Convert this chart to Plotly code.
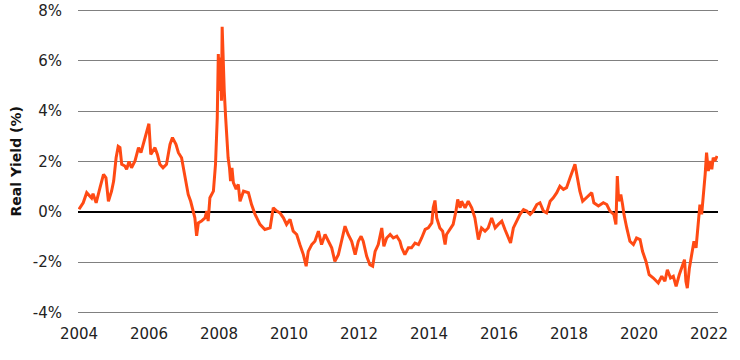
import plotly.graph_objects as go

# Decimal years and real yield (%)
years = [
    2004.00, 2004.12, 2004.22, 2004.26, 2004.36, 2004.40, 2004.49, 2004.60, 2004.70, 2004.77,
    2004.84, 2004.93, 2004.99, 2005.06, 2005.12, 2005.17, 2005.22, 2005.31, 2005.36, 2005.43,
    2005.50, 2005.60, 2005.65, 2005.70, 2005.77, 2005.84, 2005.91, 2005.997, 2006.05, 2006.11,
    2006.17, 2006.24, 2006.31, 2006.40, 2006.50, 2006.60, 2006.67, 2006.77, 2006.84, 2006.93,
    2006.98, 2007.06, 2007.12, 2007.19, 2007.26, 2007.31, 2007.36, 2007.41, 2007.50, 2007.60,
    2007.65, 2007.69, 2007.74, 2007.84, 2007.90, 2007.95, 2007.98, 2008.01, 2008.05, 2008.07,
    2008.09, 2008.12, 2008.15, 2008.19, 2008.23, 2008.26, 2008.30, 2008.33, 2008.37, 2008.41,
    2008.49, 2008.55, 2008.60, 2008.70, 2008.84, 2008.93, 2009.03, 2009.17, 2009.31, 2009.46,
    2009.55, 2009.65, 2009.74, 2009.84, 2009.93, 2010.03, 2010.12, 2010.22, 2010.31, 2010.41,
    2010.49, 2010.55, 2010.65, 2010.74, 2010.84, 2010.93, 2011.03, 2011.12, 2011.22, 2011.31,
    2011.41, 2011.50, 2011.60, 2011.69, 2011.79, 2011.89, 2011.98, 2012.06, 2012.12, 2012.22,
    2012.31, 2012.39, 2012.46, 2012.55, 2012.65, 2012.71, 2012.79, 2012.89, 2012.98, 2013.08,
    2013.17, 2013.22, 2013.31, 2013.41, 2013.50, 2013.60, 2013.70, 2013.79, 2013.89, 2013.98,
    2014.08, 2014.12, 2014.17, 2014.22, 2014.31, 2014.39, 2014.46, 2014.50, 2014.60, 2014.69,
    2014.77, 2014.82, 2014.89, 2014.93, 2015.03, 2015.12, 2015.22, 2015.31, 2015.41, 2015.50,
    2015.60, 2015.69, 2015.79, 2015.89, 2015.98, 2016.08, 2016.17, 2016.27, 2016.33, 2016.41,
    2016.50, 2016.60, 2016.70, 2016.79, 2016.89, 2016.98, 2017.08, 2017.17, 2017.27, 2017.36,
    2017.46, 2017.55, 2017.65, 2017.74, 2017.84, 2017.93, 2018.03, 2018.10, 2018.17, 2018.24,
    2018.31, 2018.39, 2018.49, 2018.58, 2018.65, 2018.71, 2018.84, 2018.98, 2019.08, 2019.17,
    2019.28, 2019.34, 2019.38, 2019.42, 2019.48, 2019.53, 2019.57, 2019.65, 2019.74, 2019.84,
    2019.93, 2020.03, 2020.10, 2020.20, 2020.29, 2020.41, 2020.55, 2020.65, 2020.74, 2020.81,
    2020.90, 2020.98, 2021.06, 2021.15, 2021.25, 2021.30, 2021.34, 2021.38, 2021.44, 2021.51,
    2021.57, 2021.63, 2021.69, 2021.74, 2021.79, 2021.84, 2021.89, 2021.93, 2021.98, 2022.03,
    2022.08, 2022.12, 2022.17, 2022.23,
]
real_yield = [
    0.10, 0.36, 0.76, 0.70, 0.55, 0.72, 0.36, 0.96, 1.49, 1.35,
    0.42, 0.82, 1.22, 2.15, 2.60, 2.55, 1.89, 1.82, 1.69, 2.00,
    1.75, 2.02, 2.28, 2.55, 2.35, 2.68, 3.08, 3.50, 2.28, 2.42,
    2.55, 2.28, 1.89, 1.75, 1.89, 2.68, 2.95, 2.68, 2.35, 2.15,
    1.75, 1.09, 0.69, 0.42, 0.03, -0.24, -0.95, -0.44, -0.37, -0.24,
    0.03, -0.37, 0.56, 0.82, 1.89, 3.74, 6.27, 4.80, 6.13, 4.41,
    7.35, 5.74, 4.80, 3.74, 2.82, 2.15, 1.75, 1.22, 1.75, 1.16,
    0.90, 1.09, 0.42, 0.82, 0.76, 0.29, -0.10, -0.50, -0.70, -0.64,
    0.16, 0.03, -0.04, -0.24, -0.50, -0.30, -0.77, -0.90, -1.30, -1.70,
    -2.16, -1.57, -1.30, -1.17, -0.77, -1.30, -0.90, -1.17, -1.43, -1.97,
    -1.70, -1.17, -0.57, -0.90, -1.17, -1.70, -1.17, -0.97, -1.17, -1.77,
    -2.10, -2.16, -1.57, -1.30, -0.64, -1.37, -1.04, -0.90, -1.04, -0.97,
    -1.17, -1.43, -1.70, -1.43, -1.43, -1.24, -1.30, -1.04, -0.70, -0.64,
    -0.44, 0.16, 0.45, -0.24, -0.64, -0.77, -1.30, -0.90, -0.70, -0.50,
    0.03, 0.49, 0.16, 0.42, 0.16, 0.42, 0.16, -0.24, -1.10, -0.64,
    -0.77, -0.64, -0.24, -0.64, -0.50, -0.37, -0.70, -1.04, -1.24, -0.64,
    -0.37, -0.10, 0.09, 0.03, -0.10, 0.03, 0.29, 0.36, 0.03, -0.04,
    0.42, 0.56, 0.76, 1.02, 0.89, 0.96, 1.35, 1.62, 1.89, 1.35,
    0.82, 0.42, 0.56, 0.69, 0.76, 0.36, 0.23, 0.36, 0.29, 0.03,
    -0.10, -0.50, 1.42, 0.42, 0.69, 0.29, -0.10, -0.64, -1.17, -1.30,
    -1.04, -1.10, -1.57, -1.97, -2.50, -2.63, -2.83, -2.56, -2.76, -2.30,
    -2.63, -2.56, -2.96, -2.50, -2.10, -1.90, -2.76, -3.03, -2.23, -1.70,
    -1.17, -1.43, -0.50, 0.29, -0.10, 0.56, 1.49, 2.35, 1.62, 2.02,
    1.69, 2.15, 2.02, 2.22,
]
tick_years = [2004, 2006, 2008, 2010, 2012, 2014, 2016, 2018, 2020, 2022]
tick_labels = [str(y) for y in tick_years]
y_ticks = [-4, -2, 0, 2, 4, 6, 8]
y_tick_labels = [f"{v}%" for v in y_ticks]
y_title = "Real Yield (%)"

fig = go.Figure()
fig.add_trace(go.Scatter(
    x=years, y=real_yield, mode="lines",
    line=dict(color="#FF4A14", width=3),
    hoverinfo="skip", showlegend=False,
))

font_family = "DejaVu Sans, Verdana, sans-serif"
fig.update_layout(
    template="none",
    width=740, height=360,
    margin=dict(l=78, r=22, t=9, b=46, autoexpand=False),
    paper_bgcolor="white", plot_bgcolor="white",
    font=dict(family=font_family, size=15, color="#222222"),
    showlegend=False,
)
fig.update_xaxes(
    automargin=False,
    range=[2003.971, 2022.257],
    tickmode="array", tickvals=tick_years, ticktext=tick_labels,
    showgrid=False, zeroline=False, showline=False,
    ticks="outside", ticklen=6, tickcolor="rgba(0,0,0,0)",
    tickfont=dict(size=15, color="#222222"),
)
fig.update_yaxes(
    automargin=False,
    range=[-4.06, 8.06],
    tickmode="array", tickvals=y_ticks, ticktext=y_tick_labels,
    showgrid=True, gridcolor="#808080", gridwidth=1,
    zeroline=True, zerolinecolor="#000000", zerolinewidth=2,
    showline=False,
    ticks="outside", ticklen=12, tickcolor="rgba(0,0,0,0)",
    tickfont=dict(size=15, color="#222222"),
)
fig.add_annotation(
    text=f"<b>{y_title}</b>", textangle=-90,
    xref="paper", yref="paper", x=-63 / 640, y=0.5,
    xanchor="center", yanchor="middle", showarrow=False,
    font=dict(size=14, color="#111111"),
)

fig.write_html(
    "out.html",
    config={"displayModeBar": False},
    post_script="document.body.style.margin='0';",
)
